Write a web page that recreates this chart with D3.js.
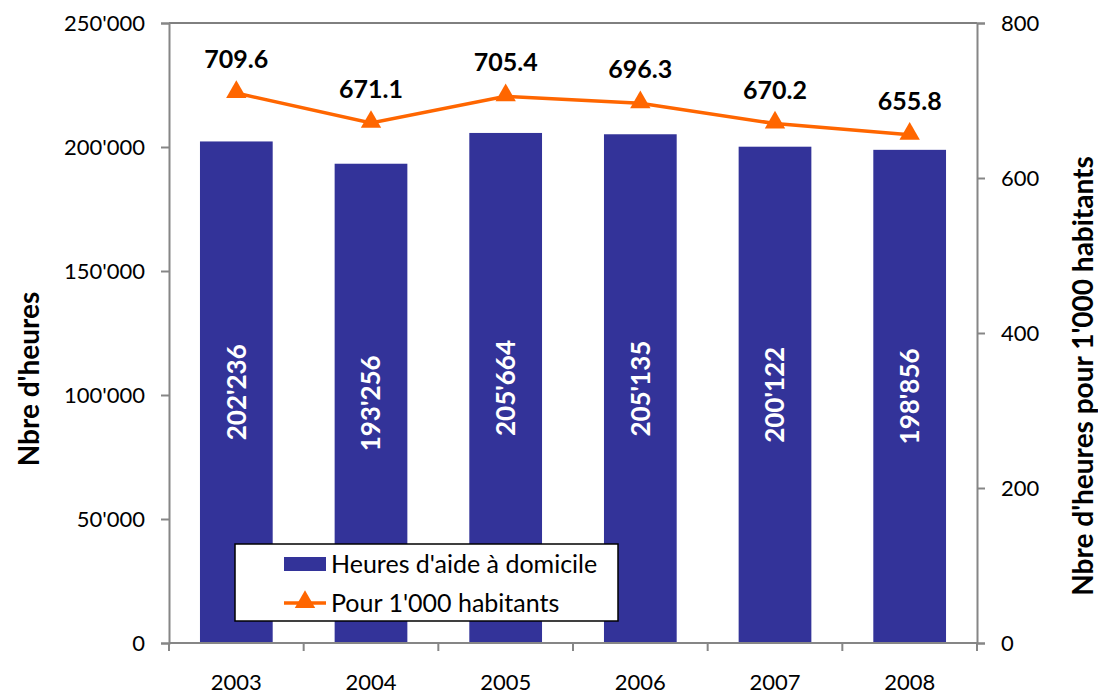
<!DOCTYPE html>
<html>
<head>
<meta charset="utf-8">
<script src="https://cdn.jsdelivr.net/npm/d3@7"></script>
<style>
  body { margin: 0; background: #fff; }
  svg text { font-family: Lato, "Open Sans", sans-serif; }
</style>
</head>
<body>
<div id="chart"></div>
<script>
// data
var years = ["2003", "2004", "2005", "2006", "2007", "2008"];
var hours = [202236, 193256, 205664, 205135, 200122, 198856];
var perThousand = [709.6, 671.1, 705.4, 696.3, 670.2, 655.8];
var leftTicks = [0, 50000, 100000, 150000, 200000, 250000];
var rightTicks = [0, 200, 400, 600, 800];

var W = 1098, H = 697;
var margin = { top: 23, right: 121, bottom: 54, left: 169 };
var w = W - margin.left - margin.right;
var h = H - margin.top - margin.bottom;

var barColor = "#333399", lineColor = "#FF6600", axisColor = "#868686";

var svg = d3.select("#chart").append("svg")
    .attr("width", W)
    .attr("height", H);

var g = svg.append("g")
    .attr("transform", "translate(" + margin.left + "," + margin.top + ")");

var x = d3.scaleBand().domain(years).range([0, w]).paddingInner(0.46).paddingOuter(0.23);
var xc = d3.scaleBand().domain(years).range([0, w]);
var yL = d3.scaleLinear().domain([0, 250000]).range([h, 0]);
var yR = d3.scaleLinear().domain([0, 800]).range([h, 0]);

var fmt = function(v) { return d3.format(",")(v).replace(/,/g, "'"); };

// top border of plot area
g.append("line")
    .attr("x1", 0).attr("x2", w).attr("y1", 0).attr("y2", 0)
    .attr("stroke", "#000").attr("stroke-width", 1);

// bars
g.selectAll(".bar")
    .data(hours)
    .enter().append("rect")
    .attr("class", "bar")
    .attr("x", function(d, i) { return x(years[i]); })
    .attr("width", x.bandwidth())
    .attr("y", function(d) { return yL(d); })
    .attr("height", function(d) { return h - yL(d); })
    .attr("fill", barColor);

// bar labels (rotated)
g.selectAll(".barlabel")
    .data(hours)
    .enter().append("text")
    .attr("class", "barlabel")
    .attr("transform", function(d, i) {
        return "translate(" + (x(years[i]) + x.bandwidth() / 2) + "," + ((yL(d) + h) / 2) + ") rotate(-90)";
    })
    .attr("text-anchor", "middle")
    .attr("dy", "0.36em")
    .attr("fill", "#fff")
    .style("font-size", "26px")
    .style("font-weight", "bold")
    .text(function(d) { return fmt(d); });

// axes
var leftAxis = d3.axisLeft(yL).tickValues(leftTicks).tickSize(8).tickPadding(16).tickFormat(fmt);
var rightAxis = d3.axisRight(yR).tickValues(rightTicks).tickSize(8).tickPadding(16);
var bottomAxis = d3.axisBottom(xc).tickSize(0).tickPadding(31);

function styleAxis(sel) {
    sel.select(".domain").attr("stroke", axisColor).attr("stroke-width", 2);
    sel.selectAll(".tick line").attr("stroke", axisColor).attr("stroke-width", 2);
    sel.selectAll("text").style("font-size", "22px").attr("fill", "#000");
    sel.attr("font-family", null);
}

g.append("g").call(leftAxis).call(styleAxis);
g.append("g").attr("transform", "translate(" + w + ",0)").call(rightAxis).call(styleAxis);
var xg = g.append("g").attr("transform", "translate(0," + h + ")").call(bottomAxis).call(styleAxis);
xg.select(".domain").attr("d", "M0,0H" + w);

// category boundary ticks
g.selectAll(".ctick")
    .data(d3.range(years.length + 1))
    .enter().append("line")
    .attr("x1", function(i) { return i * xc.step(); })
    .attr("x2", function(i) { return i * xc.step(); })
    .attr("y1", h).attr("y2", h + 8)
    .attr("stroke", axisColor).attr("stroke-width", 2);

// line series
var line = d3.line()
    .x(function(d, i) { return xc(years[i]) + xc.bandwidth() / 2; })
    .y(function(d) { return yR(d); });

g.append("path")
    .datum(perThousand)
    .attr("d", line)
    .attr("fill", "none")
    .attr("stroke", lineColor)
    .attr("stroke-width", 3.5);

var tri = d3.symbol().type(d3.symbolTriangle).size(180);

g.selectAll(".marker")
    .data(perThousand)
    .enter().append("path")
    .attr("class", "marker")
    .attr("d", tri)
    .attr("transform", function(d, i) {
        return "translate(" + (xc(years[i]) + xc.bandwidth() / 2) + "," + (yR(d) - 1) + ")";
    })
    .attr("fill", lineColor);

g.selectAll(".linelabel")
    .data(perThousand)
    .enter().append("text")
    .attr("class", "linelabel")
    .attr("x", function(d, i) { return xc(years[i]) + xc.bandwidth() / 2; })
    .attr("y", function(d) { return yR(d) - 25; })
    .attr("text-anchor", "middle")
    .style("font-size", "25px")
    .style("font-weight", "bold")
    .text(function(d) { return d3.format(".1f")(d); });

// axis titles
svg.append("text")
    .attr("transform", "translate(39,379) rotate(-90)")
    .attr("text-anchor", "middle")
    .style("font-size", "28px")
    .style("font-weight", "bold")
    .text("Nbre d'heures");

svg.append("text")
    .attr("transform", "translate(1093,376) rotate(-90)")
    .attr("text-anchor", "middle")
    .style("font-size", "28px")
    .style("font-weight", "bold")
    .text("Nbre d'heures pour 1'000 habitants");

// legend
var lg = svg.append("g").attr("transform", "translate(235,544)");
lg.append("rect")
    .attr("width", 383).attr("height", 77)
    .attr("fill", "#fff").attr("stroke", "#000").attr("stroke-width", 1.5);
lg.append("rect")
    .attr("x", 49).attr("y", 13).attr("width", 42).attr("height", 14)
    .attr("fill", barColor);
lg.append("text")
    .attr("x", 96).attr("y", 20).attr("dy", "0.35em")
    .style("font-size", "25px")
    .text("Heures d'aide à domicile");
lg.append("line")
    .attr("x1", 49).attr("x2", 91).attr("y1", 59).attr("y2", 59)
    .attr("stroke", lineColor).attr("stroke-width", 3.5);
lg.append("path")
    .attr("d", tri)
    .attr("transform", "translate(70,58)")
    .attr("fill", lineColor);
lg.append("text")
    .attr("x", 96).attr("y", 59).attr("dy", "0.35em")
    .style("font-size", "25px")
    .text("Pour 1'000 habitants");
</script>
</body>
</html>
